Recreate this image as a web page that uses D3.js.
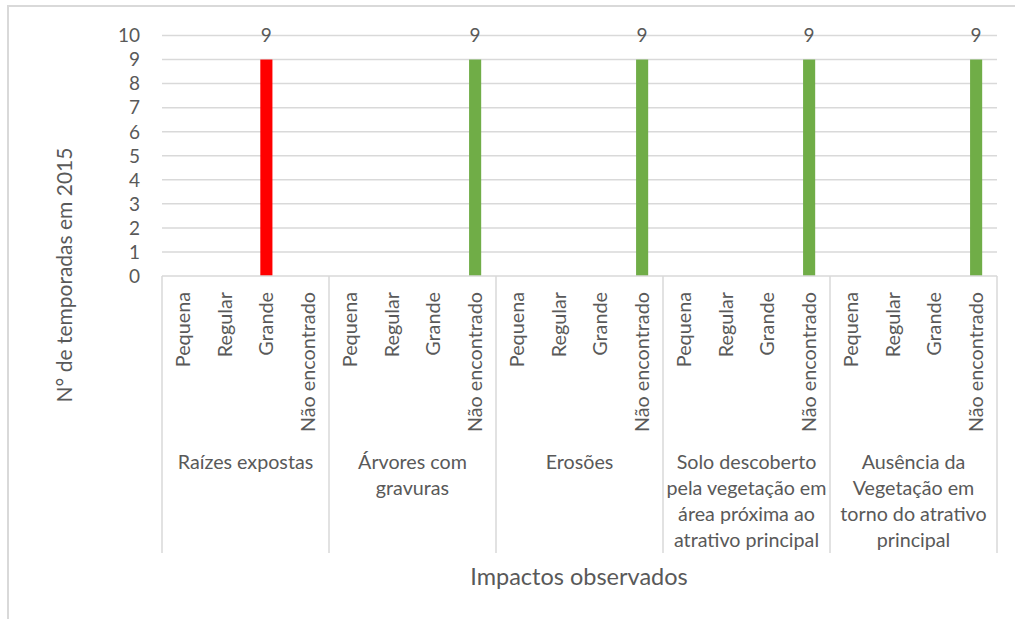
<!DOCTYPE html>
<html>
<head>
<meta charset="utf-8">
<script src="https://cdn.jsdelivr.net/npm/d3@7"></script>
<style>
  html, body { margin: 0; padding: 0; background: #fff; }
  svg { display: block; }
  text { font-family: Lato, "Open Sans", sans-serif; fill: #595959; }
</style>
</head>
<body>
<svg id="chart" width="1015" height="619"></svg>
<script>
// Impact groups and severity levels
const groups = [
  ["Raízes expostas"],
  ["Árvores com", "gravuras"],
  ["Erosões"],
  ["Solo descoberto", "pela vegetação em", "área próxima ao", "atrativo principal"],
  ["Ausência da", "Vegetação em", "torno do atrativo", "principal"]
];
const levels = ["Pequena", "Regular", "Grande", "Não encontrado"];

// Number of seasons per level (null = no bar)
const valRaizes   = [null, null, 9, null];
const valArvores  = [null, null, null, 9];
const valErosoes  = [null, null, null, 9];
const valSolo     = [null, null, null, 9];
const valAusencia = [null, null, null, 9];
const seriesValues = [valRaizes, valArvores, valErosoes, valSolo, valAusencia];

const barColors = ["#ff0000", "#70ad47", "#70ad47", "#70ad47", "#70ad47"];
const yTicks = [0, 1, 2, 3, 4, 5, 6, 7, 8, 9, 10];

const svg = d3.select("#chart");
const plotLeft = 162, plotRight = 997, plotTop = 35.5, plotBottom = 276;
const gridColor = "#d9d9d9";

// outer frame
svg.append("rect")
  .attr("x", 8).attr("y", 6).attr("width", 1020).attr("height", 640)
  .attr("fill", "none").attr("stroke", gridColor).attr("stroke-width", 2);

const y = d3.scaleLinear().domain([0, 10]).range([plotBottom, plotTop]);
const groupIdx = groups.map((g, i) => i);
const x0 = d3.scaleBand().domain(groupIdx).range([plotLeft, plotRight]).padding(0);
const x1 = d3.scaleBand().domain(levels).range([0, x0.bandwidth()]).padding(0);
const barW = x1.bandwidth() * 0.29;

// gridlines
svg.append("g").selectAll("line").data(yTicks.filter(d => d > 0)).join("line")
  .attr("x1", plotLeft).attr("x2", plotRight)
  .attr("y1", d => y(d)).attr("y2", d => y(d))
  .attr("stroke", gridColor).attr("stroke-width", 1.5);

// y tick labels
svg.append("g").selectAll("text").data(yTicks).join("text")
  .attr("x", 140).attr("y", d => y(d)).attr("dy", "0.36em")
  .attr("text-anchor", "end").attr("font-size", 19).text(d => d);

// bars
const gGroups = svg.append("g").selectAll("g").data(groupIdx).join("g")
  .attr("transform", i => `translate(${x0(i)},0)`);

gGroups.selectAll("rect")
  .data(i => levels.map((l, j) => ({ l, v: seriesValues[i][j], c: barColors[i] })).filter(d => d.v != null))
  .join("rect")
  .attr("x", d => x1(d.l) + (x1.bandwidth() - barW) / 2)
  .attr("y", d => y(d.v))
  .attr("width", barW)
  .attr("height", d => y(0) - y(d.v))
  .attr("fill", d => d.c);

// value labels
gGroups.selectAll("text.val")
  .data(i => levels.map((l, j) => ({ l, v: seriesValues[i][j] })).filter(d => d.v != null))
  .join("text").attr("class", "val")
  .attr("x", d => x1(d.l) + x1.bandwidth() / 2)
  .attr("y", d => y(d.v) - 24)
  .attr("dy", "0.36em")
  .attr("text-anchor", "middle").attr("font-size", 19)
  .text(d => d.v);

// x axis baseline and group dividers
svg.append("line").attr("x1", plotLeft).attr("x2", plotRight)
  .attr("y1", plotBottom).attr("y2", plotBottom)
  .attr("stroke", gridColor).attr("stroke-width", 1.5);
svg.append("g").selectAll("line").data(groupIdx.concat([groups.length])).join("line")
  .attr("x1", i => i < groups.length ? x0(i) : plotRight)
  .attr("x2", i => i < groups.length ? x0(i) : plotRight)
  .attr("y1", plotBottom).attr("y2", 553)
  .attr("stroke", gridColor).attr("stroke-width", 1.5);

// rotated level labels
gGroups.selectAll("text.lvl").data(levels).join("text").attr("class", "lvl")
  .attr("transform", d => `translate(${x1(d) + x1.bandwidth() / 2},292) rotate(-90)`)
  .attr("dy", "0.35em")
  .attr("text-anchor", "end").attr("font-size", 19.8)
  .text(d => d);

// group labels
gGroups.append("text")
  .attr("text-anchor", "middle").attr("font-size", 19.7)
  .selectAll("tspan").data(i => groups[i]).join("tspan")
  .attr("x", x0.bandwidth() / 2)
  .attr("y", (d, k) => 462 + k * 26)
  .attr("dy", "0.35em")
  .text(d => d);

// axis titles
svg.append("text")
  .attr("transform", "translate(65,275) rotate(-90)")
  .attr("dy", "0.35em").attr("text-anchor", "middle").attr("font-size", 21)
  .text("N° de temporadas em 2015");
svg.append("text")
  .attr("x", 579).attr("y", 577).attr("dy", "0.35em")
  .attr("text-anchor", "middle").attr("font-size", 23.5)
  .text("Impactos observados");
</script>
</body>
</html>
